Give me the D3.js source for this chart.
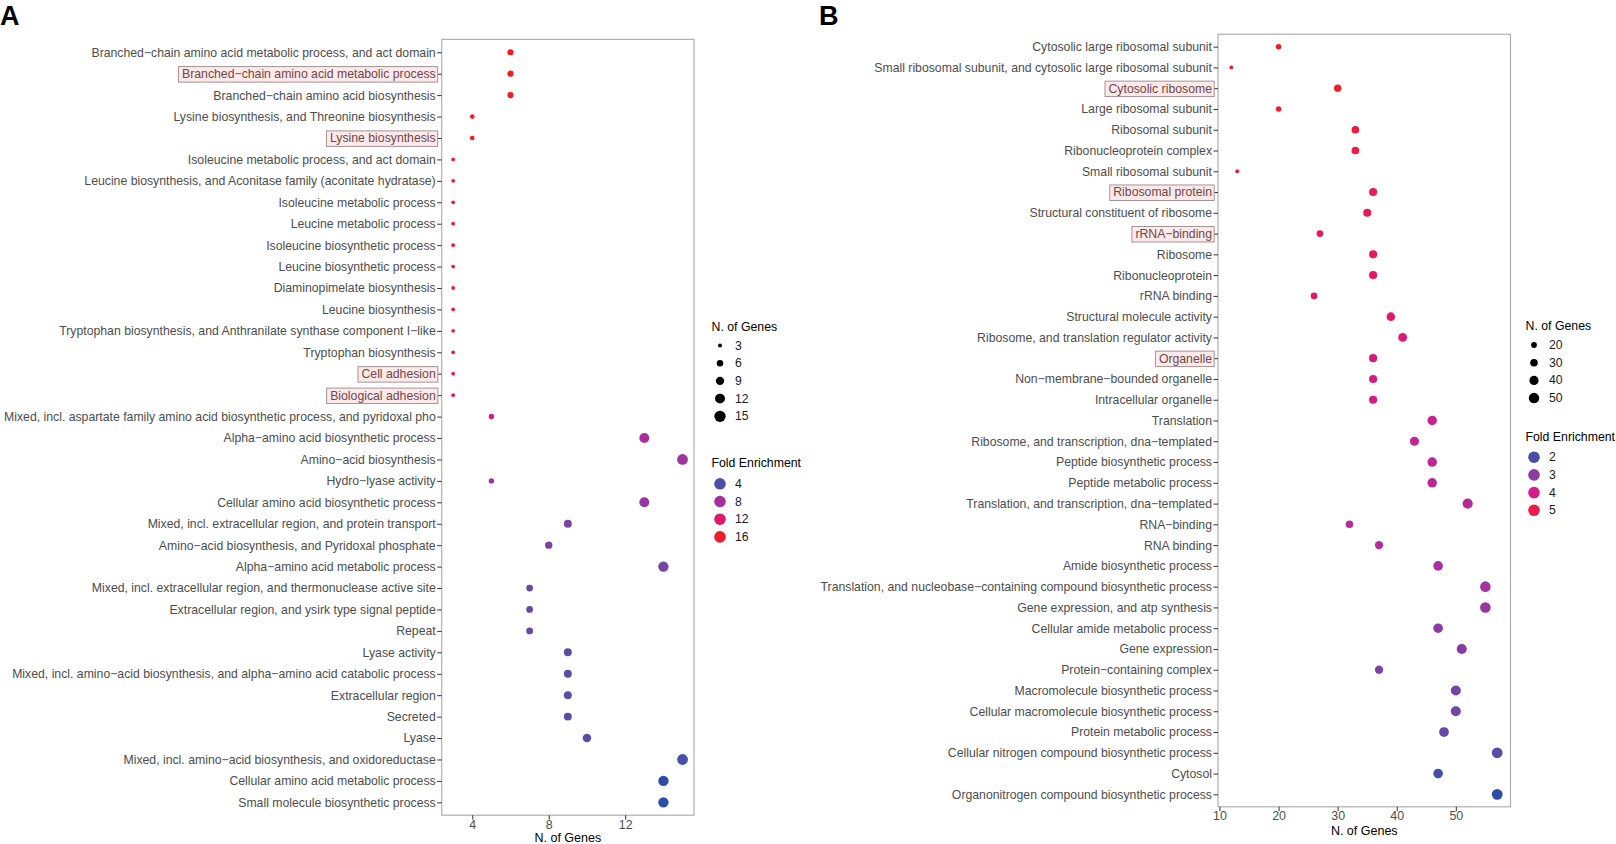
<!DOCTYPE html>
<html><head><meta charset="utf-8">
<script src="https://cdn.jsdelivr.net/npm/d3@7"></script>
<style>body{margin:0;background:#fff}svg{display:block;font-family:"Liberation Sans",Arial,sans-serif}</style>
</head><body><svg id="c" width="1616" height="844"></svg>
<script>
// ---------- Panel A data ----------
const aCategories = [
"Branched−chain amino acid metabolic process, and act domain",
"Branched−chain amino acid metabolic process",
"Branched−chain amino acid biosynthesis",
"Lysine biosynthesis, and Threonine biosynthesis",
"Lysine biosynthesis",
"Isoleucine metabolic process, and act domain",
"Leucine biosynthesis, and Aconitase family (aconitate hydratase)",
"Isoleucine metabolic process",
"Leucine metabolic process",
"Isoleucine biosynthetic process",
"Leucine biosynthetic process",
"Diaminopimelate biosynthesis",
"Leucine biosynthesis",
"Tryptophan biosynthesis, and Anthranilate synthase component I−like",
"Tryptophan biosynthesis",
"Cell adhesion",
"Biological adhesion",
"Mixed, incl. aspartate family amino acid biosynthetic process, and pyridoxal pho",
"Alpha−amino acid biosynthetic process",
"Amino−acid biosynthesis",
"Hydro−lyase activity",
"Cellular amino acid biosynthetic process",
"Mixed, incl. extracellular region, and protein transport",
"Amino−acid biosynthesis, and Pyridoxal phosphate",
"Alpha−amino acid metabolic process",
"Mixed, incl. extracellular region, and thermonuclease active site",
"Extracellular region, and ysirk type signal peptide",
"Repeat",
"Lyase activity",
"Mixed, incl. amino−acid biosynthesis, and alpha−amino acid catabolic process",
"Extracellular region",
"Secreted",
"Lyase",
"Mixed, incl. amino−acid biosynthesis, and oxidoreductase",
"Cellular amino acid metabolic process",
"Small molecule biosynthetic process"];
const aGenes = [6,6,6,4,4,3,3,3,3,3,3,3,3,3,3,3,3,5,13,15,5,13,9,8,14,7,7,7,9,9,9,9,10,15,14,14];
const aFold  = [16.9,16.9,16.9,16.2,16.2,15.2,15.2,15.2,15.2,15.2,15.2,15.2,15.2,14.1,14.1,13.0,13.0,11.3,8.0,7.7,7.6,7.5,6.2,6.0,5.6,5.2,5.2,5.2,4.5,4.5,4.5,4.5,4.3,3.6,2.3,2.3];
const aHighlighted = ["Branched−chain amino acid metabolic process","Lysine biosynthesis","Cell adhesion","Biological adhesion"];
const aXTicks = [4,8,12];
const aSizeBreaks = [3,6,9,12,15];
const aFoldBreaks = [4,8,12,16];

// ---------- Panel B data ----------
const bCategories = [
"Cytosolic large ribosomal subunit",
"Small ribosomal subunit, and cytosolic large ribosomal subunit",
"Cytosolic ribosome",
"Large ribosomal subunit",
"Ribosomal subunit",
"Ribonucleoprotein complex",
"Small ribosomal subunit",
"Ribosomal protein",
"Structural constituent of ribosome",
"rRNA−binding",
"Ribosome",
"Ribonucleoprotein",
"rRNA binding",
"Structural molecule activity",
"Ribosome, and translation regulator activity",
"Organelle",
"Non−membrane−bounded organelle",
"Intracellular organelle",
"Translation",
"Ribosome, and transcription, dna−templated",
"Peptide biosynthetic process",
"Peptide metabolic process",
"Translation, and transcription, dna−templated",
"RNA−binding",
"RNA binding",
"Amide biosynthetic process",
"Translation, and nucleobase−containing compound biosynthetic process",
"Gene expression, and atp synthesis",
"Cellular amide metabolic process",
"Gene expression",
"Protein−containing complex",
"Macromolecule biosynthetic process",
"Cellular macromolecule biosynthetic process",
"Protein metabolic process",
"Cellular nitrogen compound biosynthetic process",
"Cytosol",
"Organonitrogen compound biosynthetic process"];
const bGenes = [20,12,30,20,33,33,13,36,35,27,36,36,26,39,41,36,36,36,46,43,46,46,52,32,37,47,55,55,47,51,37,50,50,48,57,47,57];
const bFold  = [5.7,5.6,5.5,5.4,5.2,5.1,5.0,4.8,4.75,4.7,4.6,4.55,4.5,4.4,4.3,4.15,4.1,4.05,3.85,3.75,3.6,3.55,3.5,3.45,3.4,3.25,3.2,3.1,3.0,2.95,2.8,2.6,2.55,2.4,2.2,1.9,1.65];
const bHighlighted = ["Cytosolic ribosome","Ribosomal protein","rRNA−binding","Organelle"];
const bXTicks = [10,20,30,40,50];
const bSizeBreaks = [20,30,40,50];
const bFoldBreaks = [2,3,4,5];

// colour ramp (blue -> purple -> magenta -> red)
const rampStops = [0,0.1,0.33,0.39,0.58,0.66,0.83,0.94,1];
const rampColors = ["#2d4ea8","#4c4fa7","#8b3aa3","#a8309e","#d41b8a","#e0186e","#ee1b4c","#f01c2a","#f01c22"];
const ramp = d3.scaleLinear().domain(rampStops).range(rampColors).interpolate(d3.interpolateLab);

const svg = d3.select("#c");
const FONT = '"Liberation Sans",Arial,sans-serif';

function panel(cfg){
  const {cats, genes, fold, boxed, ticks, sizeBreaks, foldBreaks, left, right, top, bottom, legX, legY1, legY2, tickLabY, titleY} = cfg;
  const g = svg.append("g");
  const gx = d3.extent(genes), pad = (gx[1]-gx[0])*0.05;
  const x = d3.scaleLinear().domain([gx[0]-pad, gx[1]+pad]).range([left, right]);
  const y = d3.scalePoint().domain(cats).range([top, bottom]).padding(0.6);
  const fe = d3.extent(fold);
  const col = v => ramp((v-fe[0])/(fe[1]-fe[0]));
  const rad = d3.scaleSqrt().domain(gx).range([0,1]);
  const r = v => (3.8 + 7.0*rad(v))/2;

  // panel border
  g.append("rect").attr("x",left).attr("y",top).attr("width",right-left).attr("height",bottom-top)
   .attr("fill","none").attr("stroke","#b0b0b0").attr("stroke-width",1.2);

  // y axis
  const ya = g.append("g").attr("transform",`translate(${left},0)`)
    .call(d3.axisLeft(y).tickSize(4.5).tickPadding(1.5));
  ya.select(".domain").remove();
  ya.selectAll(".tick line").attr("stroke","#333").attr("stroke-width",1);
  ya.selectAll(".tick text").attr("font-size",12.25).attr("fill","#4d4d4d").attr("font-family",FONT);
  ya.selectAll(".tick").filter(d=>boxed.includes(d)).each(function(){
    const t = d3.select(this).select("text");
    const bb = t.node().getBBox();
    d3.select(this).insert("rect","text")
      .attr("x",bb.x-3.5).attr("y",bb.y-0.5).attr("width",bb.width+5.5).attr("height",bb.height+1.5)
      .attr("fill","#fde8ea").attr("stroke","#9c8a8a").attr("stroke-width",0.9);
    t.attr("fill","#6e4848");
  });

  // x axis
  const xa = g.append("g").attr("transform",`translate(0,${bottom})`)
    .call(d3.axisBottom(x).tickValues(ticks).tickSize(4.5).tickPadding(2));
  xa.select(".domain").remove();
  xa.selectAll(".tick line").attr("stroke","#333");
  xa.selectAll(".tick text").attr("font-size",12.4).attr("fill","#4d4d4d").attr("font-family",FONT)
    .attr("dy",null).attr("y", tickLabY-bottom).attr("dominant-baseline","central");
  g.append("text").attr("x",(left+right)/2).attr("y",titleY).attr("text-anchor","middle")
    .attr("dominant-baseline","central").attr("font-size",12.5).attr("fill","#000").text("N. of Genes");

  // points
  g.selectAll("circle.pt").data(cats).join("circle").attr("class","pt")
    .attr("cx",(d,i)=>x(genes[i])).attr("cy",d=>y(d))
    .attr("r",(d,i)=>r(genes[i])).attr("fill",(d,i)=>col(fold[i]));

  // legends
  const L = g.append("g");
  L.append("text").attr("x",legX).attr("y",legY1).attr("dominant-baseline","central")
   .attr("font-size",12.3).attr("fill","#000").text("N. of Genes");
  sizeBreaks.forEach((v,i)=>{
    const yy = legY1+19+i*17.7;
    L.append("circle").attr("cx",legX+8.5).attr("cy",yy).attr("r",r(v)*1.05).attr("fill","#000");
    L.append("text").attr("x",legX+23.5).attr("y",yy).attr("dominant-baseline","central")
     .attr("font-size",12.2).attr("fill","#1a1a1a").text(v);
  });
  L.append("text").attr("x",legX).attr("y",legY2).attr("dominant-baseline","central")
   .attr("font-size",12.3).attr("fill","#000").text("Fold Enrichment");
  foldBreaks.forEach((v,i)=>{
    const yy = legY2+20.5+i*17.7;
    L.append("circle").attr("cx",legX+8.5).attr("cy",yy).attr("r",5.8).attr("fill",col(v));
    L.append("text").attr("x",legX+23.5).attr("y",yy).attr("dominant-baseline","central")
     .attr("font-size",12.2).attr("fill","#1a1a1a").text(v);
  });
}

panel({cats:aCategories, genes:aGenes, fold:aFold, boxed:aHighlighted, ticks:aXTicks,
  sizeBreaks:aSizeBreaks, foldBreaks:aFoldBreaks, left:441.7, right:694, top:39.4, bottom:815.2,
  legX:711.5, legY1:326.5, legY2:463.3, tickLabY:825.5, titleY:837.5});
panel({cats:bCategories, genes:bGenes, fold:bFold, boxed:bHighlighted, ticks:bXTicks,
  sizeBreaks:bSizeBreaks, foldBreaks:bFoldBreaks, left:1218, right:1510.5, top:34.2, bottom:806.8,
  legX:1525.5, legY1:326, legY2:436.7, tickLabY:816, titleY:831});

svg.append("text").attr("x",0).attr("y",25).attr("font-size",27).attr("font-weight","bold").text("A");
svg.append("text").attr("x",819).attr("y",25).attr("font-size",27).attr("font-weight","bold").text("B");
</script></body></html>
